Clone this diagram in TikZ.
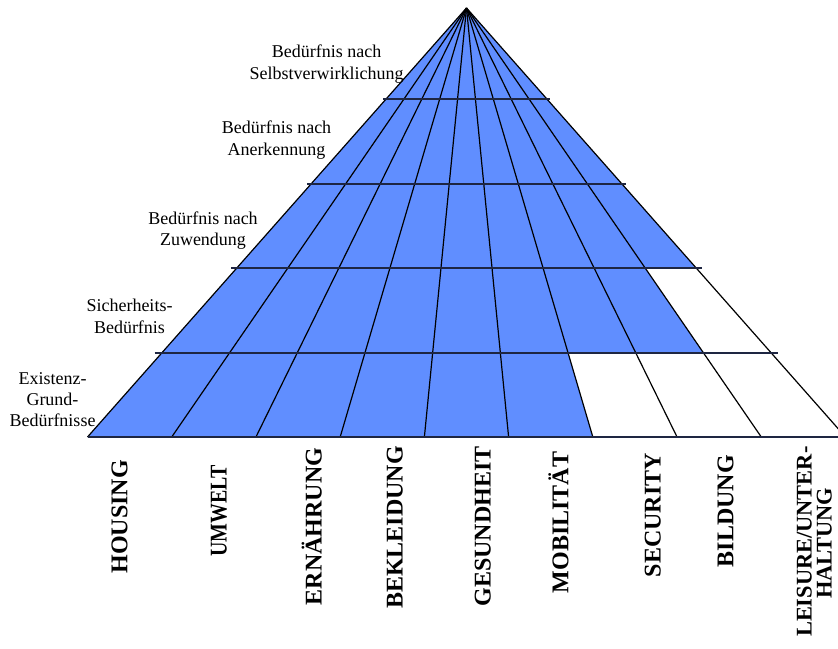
\documentclass[tikz,border=0pt]{standalone}
\usepackage{fontspec}
\usepackage{graphicx}
\setmainfont{Liberation Serif}
\usetikzlibrary{calc}
\definecolor{pyrblue}{RGB}{96,142,255}
\definecolor{levelline}{RGB}{30,38,66}

\begin{document}
\begin{tikzpicture}[x=1pt,y=-1pt,
  fan/.style={line width=1.2pt,black},
  level/.style={line width=1.9pt,levelline},
  need/.style={font=\fontsize{18}{21.6}\selectfont,anchor=base,inner sep=0pt},
  domlabel/.style={font=\fontsize{24}{28}\selectfont\bfseries,anchor=base,rotate=90,inner sep=0pt},
  domlabelsmall/.style={domlabel,font=\fontsize{22.4}{26}\selectfont\bfseries}]
\useasboundingbox (0,0) rectangle (838,648);

% apex and base points of the nine columns
\coordinate (A) at (466.5,8);
\foreach \k in {0,...,9}
  \coordinate (B\k) at ({87.5+84.222*\k},437);

% blue part of the pyramid (lower right cells stay white)
\fill[pyrblue] (A) -- (B0) -- (B6)
  -- ($(A)!0.80420!(B6)$) -- ($(A)!0.80420!(B8)$)
  -- ($(A)!0.60606!(B8)$) -- ($(A)!0.60606!(B9)$) -- cycle;

% rays from the apex
\foreach \k in {0,...,9}
  \draw[fan] (A) -- (B\k);

% level lines
\foreach \t/\e in {0.21212/3,0.41026/4,0.60606/5.5,0.80420/7}
  \draw[level] ($(A)!\t!(B0)+(-\e,0)$) -- ($(A)!\t!(B9)+(\e,0)$);
\draw[level] (B0) -- (B9);

% needs
\node[need] (n1a) at (326.7,57.3) {Bedürfnis nach};
\node[need] (n1b) at (326.7,79.3) {Selbstverwirklichung};
\node[need] (n2a) at (276.5,133) {Bedürfnis nach};
\node[need] (n2b) at (276.5,155) {Anerkennung};
\node[need] (n3a) at (203,224.3) {Bedürfnis nach};
\node[need] (n3b) at (203,245.5) {Zuwendung};
\node[need] (n4a) at (129.5,311.5) {Sicherheits-};
\node[need] (n4b) at (129.5,333) {Bedürfnis};
\node[need] (n5a) at (52.5,384.5) {Existenz-};
\node[need] (n5b) at (52.5,405.5) {Grund-};
\node[need] (n5c) at (52.5,426.5) {Bedürfnisse};

% domains
\node[domlabel] (d1) at (127.3,516.7) {HOUSING};
\node[domlabel] (d2) at (226.7,511) {\scalebox{0.83}[1]{UMWELT}};
\node[domlabel] (d3) at (321.7,526.5) {ERNÄHRUNG};
\node[domlabel] (d4) at (402.7,527.5) {BEKLEIDUNG};
\node[domlabel] (d5) at (490.7,526.5) {GESUNDHEIT};
\node[domlabel] (d6) at (568.3,522.5) {MOBILITÄT};
\node[domlabel] (d7) at (660.7,515) {SECURITY};
\node[domlabel] (d8) at (733.3,511) {BILDUNG};
\node[domlabelsmall] (d9a) at (811.7,541.7) {LEISURE/UNTER-};
\node[domlabelsmall] (d9b) at (831.7,543.3) {HALTUNG};
\end{tikzpicture}
\end{document}
